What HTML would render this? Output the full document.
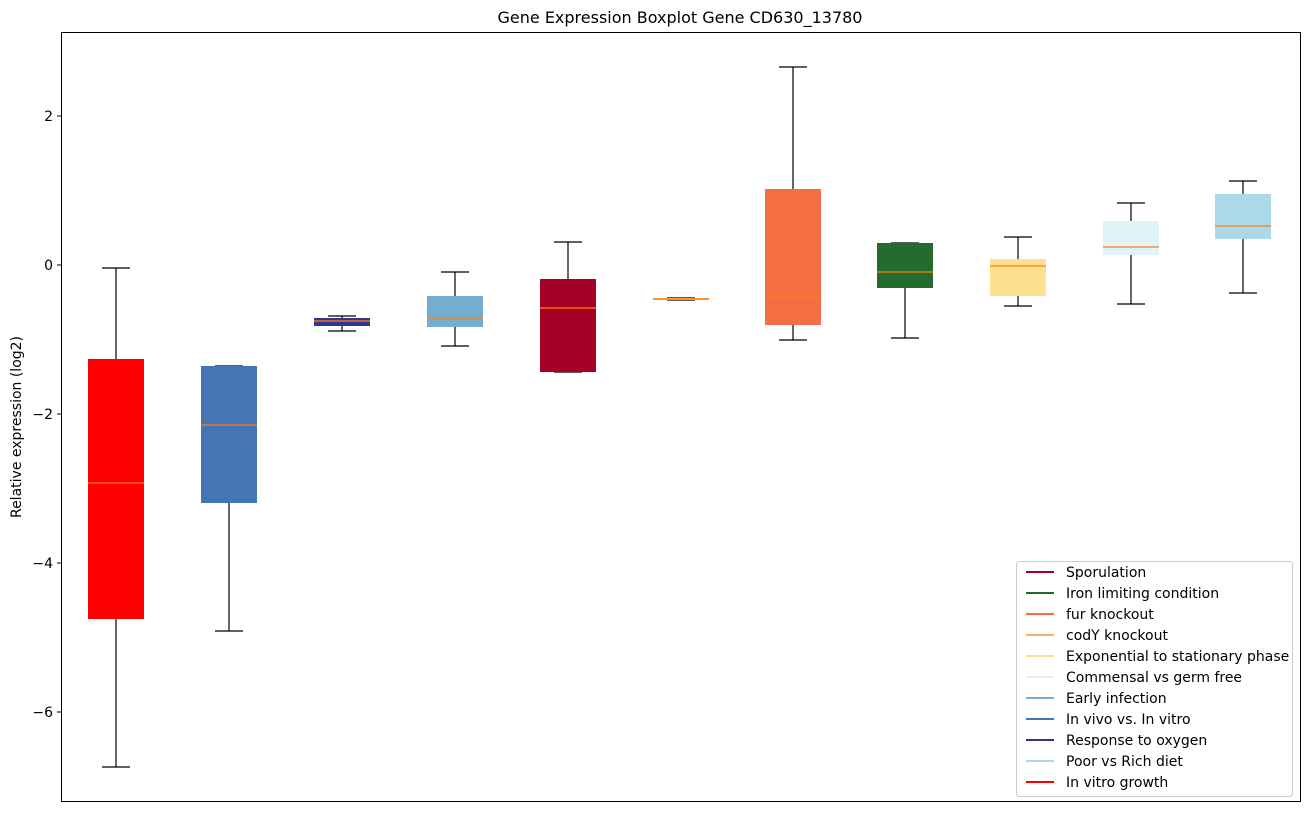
<!DOCTYPE html>
<html><head><style>body{margin:0;background:#fff}</style></head><body>
<svg width="1309" height="812" xmlns="http://www.w3.org/2000/svg" font-family="DejaVu Sans, sans-serif">
<rect width="1309" height="812" fill="#fff"/>
<text x="680" y="23" font-size="16" text-anchor="middle">Gene Expression Boxplot Gene CD630_13780</text>
<g stroke="#000" stroke-width="1.2">
<line x1="116" y1="268" x2="116" y2="767"/><line x1="102" y1="268" x2="130" y2="268"/><line x1="102" y1="767" x2="130" y2="767"/>
<line x1="229" y1="366" x2="229" y2="631"/><line x1="215" y1="366" x2="243" y2="366"/><line x1="215" y1="631" x2="243" y2="631"/>
<line x1="342" y1="316" x2="342" y2="331"/><line x1="328" y1="316" x2="356" y2="316"/><line x1="328" y1="331" x2="356" y2="331"/>
<line x1="455" y1="272" x2="455" y2="346"/><line x1="441" y1="272" x2="469" y2="272"/><line x1="441" y1="346" x2="469" y2="346"/>
<line x1="568" y1="242" x2="568" y2="372"/><line x1="554" y1="242" x2="582" y2="242"/><line x1="554" y1="372" x2="582" y2="372"/>
<line x1="667" y1="298" x2="695" y2="298"/><line x1="667" y1="300" x2="695" y2="300"/>
<line x1="793" y1="67" x2="793" y2="340"/><line x1="779" y1="67" x2="807" y2="67"/><line x1="779" y1="340" x2="807" y2="340"/>
<line x1="905" y1="243" x2="905" y2="338"/><line x1="891" y1="243" x2="919" y2="243"/><line x1="891" y1="338" x2="919" y2="338"/>
<line x1="1018" y1="237" x2="1018" y2="306"/><line x1="1004" y1="237" x2="1032" y2="237"/><line x1="1004" y1="306" x2="1032" y2="306"/>
<line x1="1131" y1="203" x2="1131" y2="304"/><line x1="1117" y1="203" x2="1145" y2="203"/><line x1="1117" y1="304" x2="1145" y2="304"/>
<line x1="1243" y1="181" x2="1243" y2="293"/><line x1="1229" y1="181" x2="1257" y2="181"/><line x1="1229" y1="293" x2="1257" y2="293"/>
</g>
<g>
<rect x="88" y="359" width="56" height="260" fill="#ff0000"/>
<rect x="201" y="366" width="56" height="137" fill="#4575b4"/>
<rect x="314" y="318" width="56" height="8" fill="#313695"/>
<rect x="427" y="296" width="56" height="31" fill="#74add1"/>
<rect x="540" y="279" width="56" height="93" fill="#a50026"/>
<rect x="653" y="298" width="56" height="2" fill="#fdae61"/>
<rect x="765" y="189" width="56" height="136" fill="#f46d43"/>
<rect x="877" y="243" width="56" height="45" fill="#236b2e"/>
<rect x="990" y="259" width="56" height="37" fill="#fee090"/>
<rect x="1103" y="221" width="56" height="34" fill="#e0f3f8"/>
<rect x="1215" y="194" width="56" height="45" fill="#abd9e9"/>
</g>
<g stroke="#ff7f0e" stroke-width="1.2">
<line x1="88" y1="483" x2="144" y2="483"/><line x1="201" y1="425" x2="257" y2="425"/>
<line x1="314" y1="321" x2="370" y2="321"/><line x1="427" y1="318" x2="483" y2="318"/>
<line x1="540" y1="308" x2="596" y2="308"/><line x1="653" y1="299" x2="709" y2="299"/>
<line x1="765" y1="297" x2="821" y2="297"/><line x1="877" y1="272" x2="933" y2="272"/>
<line x1="990" y1="266" x2="1046" y2="266"/><line x1="1103" y1="247" x2="1159" y2="247"/>
<line x1="1215" y1="226" x2="1271" y2="226"/>
</g>
<rect x="61.5" y="32.5" width="1239" height="769" fill="none" stroke="#000"/>
<g font-size="14" text-anchor="end">
<line x1="57" y1="116" x2="61" y2="116" stroke="#000"/><text x="53" y="121">2</text>
<line x1="57" y1="265" x2="61" y2="265" stroke="#000"/><text x="53" y="270">0</text>
<line x1="57" y1="414" x2="61" y2="414" stroke="#000"/><text x="53" y="419">−2</text>
<line x1="57" y1="563" x2="61" y2="563" stroke="#000"/><text x="53" y="568">−4</text>
<line x1="57" y1="712" x2="61" y2="712" stroke="#000"/><text x="53" y="717">−6</text>
</g>
<text transform="translate(21,427) rotate(-90)" font-size="14" text-anchor="middle">Relative expression (log2)</text>
<rect x="1016.5" y="561.5" width="276" height="235" rx="3" fill="#fff" stroke="#ccc"/>
<g font-size="14" stroke-width="2">
<line x1="1026" y1="572" x2="1054" y2="572" stroke="#a50026"/><text x="1066" y="577">Sporulation</text>
<line x1="1026" y1="593" x2="1054" y2="593" stroke="#236b2e"/><text x="1066" y="598">Iron limiting condition</text>
<line x1="1026" y1="614" x2="1054" y2="614" stroke="#f46d43"/><text x="1066" y="619">fur knockout</text>
<line x1="1026" y1="635" x2="1054" y2="635" stroke="#fdae61"/><text x="1066" y="640">codY knockout</text>
<line x1="1026" y1="656" x2="1054" y2="656" stroke="#fee090"/><text x="1066" y="661">Exponential to stationary phase</text>
<line x1="1026" y1="677" x2="1054" y2="677" stroke="#e0f3f8"/><text x="1066" y="682">Commensal vs germ free</text>
<line x1="1026" y1="698" x2="1054" y2="698" stroke="#74add1"/><text x="1066" y="703">Early infection</text>
<line x1="1026" y1="719" x2="1054" y2="719" stroke="#4575b4"/><text x="1066" y="724">In vivo vs. In vitro</text>
<line x1="1026" y1="740" x2="1054" y2="740" stroke="#313695"/><text x="1066" y="745">Response to oxygen</text>
<line x1="1026" y1="761" x2="1054" y2="761" stroke="#abd9e9"/><text x="1066" y="766">Poor vs Rich diet</text>
<line x1="1026" y1="782" x2="1054" y2="782" stroke="#ff0000"/><text x="1066" y="787">In vitro growth</text>
</g>
</svg>
</body></html>
